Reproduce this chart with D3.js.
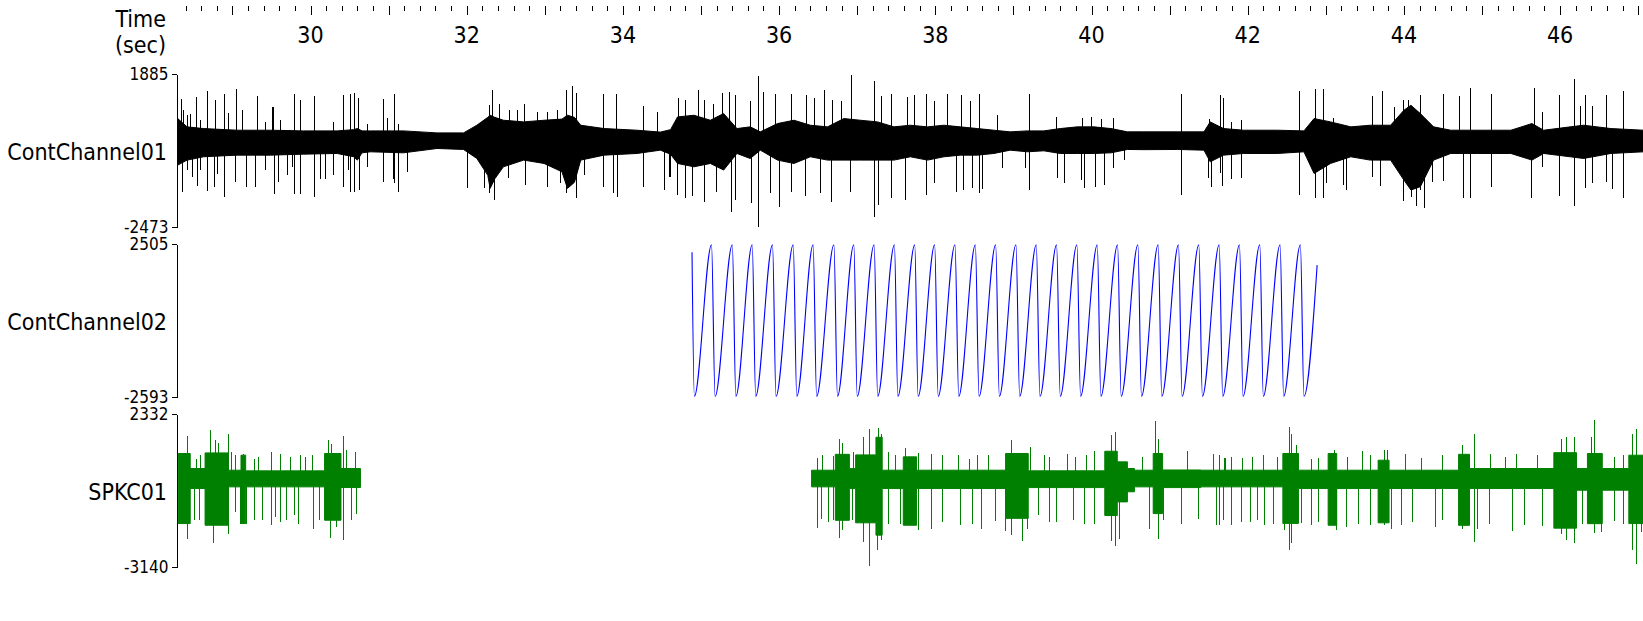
<!DOCTYPE html>
<html><head><meta charset="utf-8">
<script src="https://cdn.jsdelivr.net/npm/d3@7"></script>
<style>
body{margin:0;background:#fff;}
svg{display:block;}
text{font-family:"DejaVu Sans Condensed","DejaVu Sans",sans-serif;font-stretch:condensed;fill:#000;}
</style></head><body>
<svg id="chart" width="1643" height="621"></svg>
<script>
// ---------- DATA ----------
const timeLabels = [30, 32, 34, 36, 38, 40, 42, 44, 46];
const channelNames = ["ContChannel01", "ContChannel02", "SPKC01"];
const channelMin = [-2473, -2593, -3140];
const channelMax = [1885, 2505, 2332];

// ContChannel01: noise band envelope [time, upper, lower]
const ch1Band = [[28.30,615,-710],[28.42,379,-568],[28.63,331,-473],[29.06,284,-426],[29.49,284,-426],[29.91,265,-398],[30.34,265,-379],[30.55,300,-470],[30.60,331,-568],[30.66,265,-360],[30.77,265,-331],[31.19,265,-360],[31.62,208,-237],[31.96,208,-265],[32.13,426,-521],[32.27,650,-1000],[32.30,710,-1373],[32.36,650,-1100],[32.47,568,-758],[32.73,521,-568],[32.99,568,-663],[33.22,600,-900],[33.29,710,-1373],[33.38,650,-1200],[33.46,426,-568],[33.76,331,-426],[34.18,284,-379],[34.48,230,-284],[34.61,300,-400],[34.70,663,-663],[34.91,710,-758],[35.12,568,-663],[35.29,758,-852],[35.46,331,-379],[35.63,379,-521],[35.76,237,-284],[35.98,473,-568],[36.19,568,-663],[36.40,426,-473],[36.62,379,-568],[36.83,616,-568],[37.04,568,-568],[37.26,521,-568],[37.47,379,-568],[37.68,426,-473],[37.90,379,-568],[38.11,426,-473],[38.32,379,-426],[38.54,331,-426],[38.75,284,-379],[38.96,237,-284],[39.18,265,-331],[39.39,265,-303],[39.60,331,-379],[39.82,379,-379],[40.03,379,-379],[40.25,331,-360],[40.46,237,-265],[40.67,237,-270],[41.10,237,-265],[41.44,237,-284],[41.52,521,-616],[41.69,331,-426],[41.95,284,-379],[42.38,284,-379],[42.72,265,-331],[42.85,616,-947],[43.06,521,-663],[43.32,379,-473],[43.57,426,-568],[43.83,426,-568],[44.00,852,-1136],[44.09,994,-1420],[44.21,758,-1326],[44.38,379,-568],[44.60,284,-379],[44.94,284,-379],[45.37,284,-379],[45.64,473,-568],[45.79,284,-379],[46.13,379,-473],[46.30,426,-521],[46.65,331,-379],[47.07,284,-331]];

// ContChannel01: individual spikes [time, peak value]
const ch1Spikes = [[28.34,1184],[28.53,1231],[28.68,1392],[28.78,1155],[28.89,1326],[29.04,1449],[29.31,1260],[29.79,1316],[29.87,1136],[30.05,1260],[30.41,1278],[30.51,1307],[30.56,1345],[30.61,1212],[30.93,1184],[31.07,1307],[32.28,994],[32.33,1420],[32.41,1042],[32.54,852],[33.27,1420],[33.35,1534],[33.40,1354],[33.74,1316],[33.91,1326],[34.26,966],[34.44,805],[28.46,758],[29.51,947],[32.64,852],[32.90,805],[33.03,805],[33.16,852],[32.73,1042],
[28.35,-1468],[28.55,-1307],[28.68,-1439],[28.76,-1326],[28.89,-1610],[29.03,-1203],[29.18,-1326],[29.29,-1326],[29.53,-1544],[29.58,-1193],[29.79,-1525],[29.87,-1525],[30.05,-1629],[30.19,-1099],[30.41,-1326],[30.51,-1468],[30.56,-1468],[30.62,-1420],[30.93,-1184],[31.07,-1212],[31.12,-1468],[31.24,-900],[32.01,-1373],[32.22,-1373],[32.29,-1515],[32.35,-1705],[32.53,-1089],[32.75,-1278],[33.03,-1326],[33.20,-1231],[33.27,-1515],[33.40,-1657],[33.50,-994],[33.74,-1345],[33.87,-1496],[33.93,-1629],[34.26,-1326],[34.60,-1042],
[34.70,1212],[34.80,1136],[34.96,1439],[35.04,1136],[35.16,1042],[35.27,1354],[35.36,1373],[35.43,1297],[35.63,1108],[35.73,1818],[35.79,1373],[35.95,1326],[36.15,1307],[36.34,1278],[36.45,1212],[36.57,1420],[36.68,1136],[36.79,1117],[36.92,1860],[37.21,1676],[37.30,1250],[37.43,1307],[37.64,1231],[37.73,1278],[37.88,1307],[37.98,1108],[38.15,1326],[38.33,1278],[38.45,1117],[38.56,1307],[38.79,710],[39.20,1326],[39.54,663],[39.88,644],[39.99,663],[40.12,616],[40.27,644],
[34.52,-1420],[34.59,-1042],[34.69,-1563],[34.80,-1657],[34.89,-1591],[35.04,-1752],[35.19,-1468],[35.39,-2036],[35.43,-1705],[35.64,-1799],[35.73,-2462],[35.88,-1515],[36.00,-1894],[36.15,-1468],[36.33,-1591],[36.53,-1515],[36.67,-1752],[36.91,-1468],[37.21,-2197],[37.26,-1847],[37.43,-1657],[37.61,-1705],[37.88,-1563],[37.98,-1231],[38.26,-1468],[38.35,-1420],[38.47,-1373],[38.56,-1515],[38.60,-1401],[38.85,-805],[39.15,-805],[39.20,-1420],[39.56,-1089],[39.65,-1231],[39.87,-1136],[39.91,-1373],[40.05,-1326],[40.16,-1278],[40.27,-805],[40.42,-568],
[41.15,1307],[41.50,616],[41.65,1278],[41.69,1212],[41.79,521],[41.92,568],[42.66,1392],[42.86,1468],[42.97,1468],[43.09,644],[43.59,1250],[43.72,1392],[43.87,947],[43.99,1155],[44.05,1155],[44.20,1278],[44.50,1307],[44.70,1250],[44.84,1496],[45.12,1307],[45.66,1496],[45.77,805],[45.99,1278],[46.18,1733],[46.25,966],[46.32,1278],[46.41,966],[46.59,1278],[46.81,1392],
[41.15,-1563],[41.49,-1089],[41.53,-1326],[41.65,-947],[41.67,-1307],[41.79,-1117],[41.92,-1089],[42.66,-1563],[42.86,-1657],[42.97,-1657],[43.00,-1212],[43.22,-1278],[43.26,-1420],[43.59,-1042],[43.69,-1307],[43.99,-1723],[44.09,-1610],[44.15,-1866],[44.20,-1420],[44.26,-1941],[44.36,-1184],[44.50,-1155],[44.76,-1657],[44.84,-1657],[45.12,-1326],[45.63,-1657],[45.77,-758],[45.99,-1591],[46.18,-1866],[46.32,-1373],[46.41,-1231],[46.59,-1184],[46.67,-1401],[46.81,-1657],
[28.37,855],[28.42,713],[28.59,570],[28.94,760],[29.12,855],[29.42,523],[29.52,931],[29.61,570],[30.29,523],[30.72,475],[30.98,618],[31.12,475],
[28.42,-855],[28.48,-1045],[28.59,-855],[28.80,-950],[29.42,-855],[29.70,-998],[29.76,-760],[30.12,-1093],[30.29,-998],[30.48,-855],[30.72,-760],[30.93,-855],[31.06,-1093]];

// ContChannel02: oscillation extremes
const ch2PeakTimes = [35.135,35.401,35.656,35.916,36.181,36.436,36.702,36.957,37.217,37.477,37.737,37.992,38.252,38.513,38.773,39.033,39.293,39.553,39.813,40.074,40.334,40.594,40.854,41.114,41.374,41.635,41.895,42.155,42.415,42.675];
const ch2TroughTimes = [34.915,35.180,35.446,35.700,35.960,36.226,36.480,36.747,37.000,37.262,37.520,37.780,38.037,38.300,38.560,38.820,39.080,39.340,39.600,39.860,40.120,40.380,40.640,40.900,41.160,41.420,41.680,41.940,42.200,42.460,42.720];
const ch2PeakValue = 2480;
const ch2TroughValue = -2570;
const ch2Start = [34.885, 2230];
const ch2End = [42.889, 1800];

// SPKC01: noise band level from each time to the next [time, upper, lower]
const ch3BandEarly = [[28.305,919,-1587],[28.46,382,-334],[28.65,940,-1646],[28.95,322,-274],[29.11,859,-1587],[29.17,298,-274],[30.18,919,-1467],[30.39,382,-298],[30.64,382,-298]];
const ch3BandLate = [[36.416,322,-274],[36.72,890,-1470],[36.90,382,-334],[36.98,870,-1560],[37.24,1500,-2000],[37.32,322,-334],[37.59,799,-1646],[37.76,322,-334],[38.90,920,-1400],[39.19,300,-300],[40.17,1000,-1300],[40.33,620,-811],[40.46,382,-450],[40.55,322,-274],[40.79,920,-1230],[40.91,330,-300],[41.40,322,-274],[42.40,322,-274],[42.45,920,-1580],[42.65,322,-334],[43.03,919,-1646],[43.14,322,-334],[43.67,680,-1560],[43.81,322,-334],[44.70,890,-1650],[44.84,382,-334],[45.92,950,-1750],[46.21,382,-394],[46.35,920,-1590],[46.54,382,-394],[46.88,859,-1587],[47.07,859,-1587]];

// SPKC01: individual spikes [time, peak value]
const ch3Spikes = [[28.42,1539],[28.54,740],[28.59,859],[28.71,1754],[28.78,1420],[28.81,1300],[28.95,1634],[28.98,978],[29.03,859],[29.14,919],[29.28,740],[29.33,800],[29.50,978],[29.61,919],[29.74,800],[29.86,859],[29.93,800],[30.02,859],[30.23,1420],[30.26,1276],[30.41,1539],[30.46,1038],[30.57,978],
[28.32,-1587],[28.42,-2124],[28.51,-1444],[28.57,-1467],[28.75,-2279],[28.95,-1945],[29.03,-1169],[29.10,-1587],[29.18,-1587],[29.28,-1467],[29.38,-1467],[29.50,-1646],[29.55,-1348],[29.61,-1527],[29.69,-1467],[29.79,-1288],[29.84,-1587],[30.03,-1766],[30.11,-1467],[30.25,-2088],[30.33,-1706],[30.41,-2160],[30.52,-1467],[30.58,-1229],
[36.48,764],[36.55,859],[36.69,835],[36.77,1432],[36.80,1312],[36.94,978],[37.07,1503],[37.15,1790],[37.26,1849],[37.30,1599],[37.39,978],[37.49,883],[37.61,1133],[37.78,954],[37.95,919],[38.09,859],[38.29,859],[38.43,740],[38.53,859],[38.67,883],[38.97,1396],[39.21,1157],[39.39,883],[39.46,799],[39.69,919],[39.79,799],[39.93,859],[40.03,1014],[40.25,1575],[40.30,1694],[40.65,799],[40.81,2076],[40.85,1432],[41.22,1002],[41.56,919],[41.71,764],
[36.48,-1742],[36.54,-1408],[36.62,-1527],[36.69,-1467],[36.77,-2100],[36.80,-1825],[36.93,-1467],[37.07,-2243],[37.15,-3100],[37.25,-2541],[37.30,-2183],[37.39,-1587],[37.55,-1587],[37.78,-1825],[37.95,-1766],[38.09,-1527],[38.32,-1622],[38.47,-1587],[38.58,-1766],[38.77,-1503],[38.89,-1861],[38.97,-1980],[39.11,-2219],[39.17,-1790],[39.31,-1288],[39.46,-1527],[39.54,-1527],[39.76,-1467],[39.90,-1587],[40.03,-1587],[40.25,-2219],[40.30,-2386],[40.35,-2124],[40.74,-1766],[40.85,-2124],[40.91,-1467],[41.14,-1587],[41.37,-1408],[41.59,-1622],[41.69,-1467],
[41.63,859],[41.70,764],[41.79,799],[41.93,764],[42.06,799],[42.19,883],[42.37,799],[42.53,1873],[42.55,1599],[42.62,1241],[42.81,740],[42.90,764],[43.10,1038],[43.27,799],[43.46,1002],[43.57,859],[43.74,1038],[43.79,1038],[44.02,919],[44.22,764],[44.49,883],[44.75,1217],[44.90,1611],[45.10,919],[45.30,799],[45.43,919],[45.71,859],[45.95,799],[46.01,1455],[46.08,1515],[46.18,1515],[46.39,1515],[46.43,2112],[46.69,799],[46.81,859],[46.92,1599],[46.97,1790],
[41.60,-632],[41.63,-1622],[41.69,-1467],[41.79,-1622],[41.91,-1527],[42.03,-1527],[42.12,-1467],[42.21,-1646],[42.33,-1587],[42.47,-1825],[42.53,-2541],[42.55,-2267],[42.68,-1551],[42.81,-1646],[42.90,-1527],[43.04,-1646],[43.13,-1801],[43.26,-1706],[43.41,-1587],[43.57,-1646],[43.74,-1622],[43.84,-1766],[43.96,-1622],[44.11,-1527],[44.40,-1706],[44.49,-1467],[44.75,-1766],[44.90,-2243],[44.94,-1790],[45.09,-1587],[45.39,-1861],[45.54,-1646],[45.77,-1670],[45.94,-1646],[46.01,-1945],[46.07,-2183],[46.18,-2267],[46.28,-1587],[46.43,-1921],[46.52,-1885],[46.69,-1503],[46.81,-1587],[46.92,-2541],[46.97,-3018],[47.03,-1885]];

// ---------- LAYOUT ----------
const W = 1643, H = 621;
const plotLeft = 176.5, plotRight = 1643;
const panelTop = [74, 244, 414];
const panelBottom = [227, 397, 567];
const colors = ["#000000", "#0000ff", "#008000"];
const FONT = '"DejaVu Sans Condensed","DejaVu Sans",sans-serif';

const svg = d3.select("#chart");
svg.append("rect").attr("width", W).attr("height", H).attr("fill", "#fff");

const x = d3.scaleLinear().domain([30, 46]).range([310.5, 310.5 + 16 * 78.1]);

svg.append("defs").append("clipPath").attr("id", "plotclip")
  .append("rect").attr("x", plotLeft + 1).attr("y", 0).attr("width", plotRight - plotLeft).attr("height", H);

// ---------- TIME AXIS ----------
const tMin = x.invert(plotLeft + 1), tMax = x.invert(plotRight);
const minorTicks = d3.range(Math.ceil(tMin * 5), Math.floor(tMax * 5) + 1).map(d => d / 5).filter(d => Math.abs(d - Math.round(d)) > 1e-6);
const majorTicks = d3.range(Math.ceil(tMin), Math.floor(tMax) + 1);

const minorAxis = d3.axisBottom(x).tickValues(minorTicks).tickSize(5).tickFormat("");
const majorAxis = d3.axisBottom(x).tickValues(majorTicks).tickSize(9).tickFormat("");
const gMinor = svg.append("g").attr("transform", "translate(0,6)").call(minorAxis);
const gMajor = svg.append("g").attr("transform", "translate(0,6)").call(majorAxis);
[gMinor, gMajor].forEach(g => {
  g.select(".domain").remove();
  g.selectAll("line").attr("stroke", "#000").attr("shape-rendering", "crispEdges");
});

svg.append("g").selectAll("text").data(timeLabels).join("text")
  .attr("x", d => x(d)).attr("y", 43)
  .attr("text-anchor", "middle").attr("font-size", 23)
  .text(d => d);

svg.append("text").attr("x", 166).attr("y", 27).attr("text-anchor", "end").attr("font-size", 23).text("Time");
svg.append("text").attr("x", 166).attr("y", 53).attr("text-anchor", "end").attr("font-size", 23).text("(sec)");

// ---------- CHANNELS ----------
function panel(i) {
  const y = d3.scaleLinear().domain([channelMin[i], channelMax[i]]).range([panelBottom[i], panelTop[i]]);
  const g = svg.append("g");
  const yAxis = d3.axisLeft(y).tickValues([channelMin[i], channelMax[i]]).tickSize(5).tickSizeOuter(0).tickFormat(d => String(d));
  const ga = g.append("g").attr("transform", `translate(${plotLeft},0)`).call(yAxis);
  ga.attr("font-family", null).attr("font-size", null);
  ga.select(".domain").attr("stroke", "#000").attr("shape-rendering", "crispEdges");
  ga.selectAll("line").attr("stroke", "#000").attr("shape-rendering", "crispEdges");
  ga.selectAll("text").attr("font-size", 17).attr("x", -8).attr("dy", "0.35em")
    .style("font-family", FONT).attr("fill", "#000");
  g.append("text").attr("x", 167).attr("y", (panelTop[i] + panelBottom[i]) / 2 + 1)
    .attr("dy", "0.35em").attr("text-anchor", "end").attr("font-size", 23).text(channelNames[i]);
  return { y, gp: g.append("g").attr("clip-path", "url(#plotclip)") };
}

function drawNoise(p, bands, spikes, color, curve) {
  const area = d3.area().x(d => x(d[0])).y0(d => p.y(d[2])).y1(d => p.y(d[1])).curve(curve);
  bands.forEach(b => {
    p.gp.append("path").datum(d3.sort(b, d => d[0])).attr("d", area).attr("fill", color).attr("stroke", color).attr("stroke-width", 1);
  });
  p.gp.append("g").selectAll("line").data(spikes).join("line")
    .attr("x1", d => Math.round(x(d[0])) + 0.5).attr("x2", d => Math.round(x(d[0])) + 0.5)
    .attr("y1", p.y(0)).attr("y2", d => p.y(d[1]))
    .attr("stroke", color).attr("stroke-width", 1).attr("shape-rendering", "crispEdges");
}

// ContChannel01
const p1 = panel(0);
drawNoise(p1, [ch1Band], ch1Spikes, colors[0], d3.curveLinear);

// ContChannel02
const p2 = panel(1);
const ch2Points = [ch2Start]
  .concat(ch2TroughTimes.map(t => [t, ch2TroughValue]))
  .concat(ch2PeakTimes.map(t => [t, ch2PeakValue]))
  .concat([ch2End]);
const ch2Sorted = d3.sort(ch2Points, d => d[0]);
p2.gp.append("path").datum(ch2Sorted)
  .attr("d", d3.line().x(d => x(d[0])).y(d => p2.y(d[1])).curve(d3.curveMonotoneX))
  .attr("fill", "none").attr("stroke", colors[1]).attr("stroke-width", 1.1);

// SPKC01
const p3 = panel(2);
drawNoise(p3, [ch3BandEarly, ch3BandLate], ch3Spikes, colors[2], d3.curveStepAfter);
</script>
</body></html>
